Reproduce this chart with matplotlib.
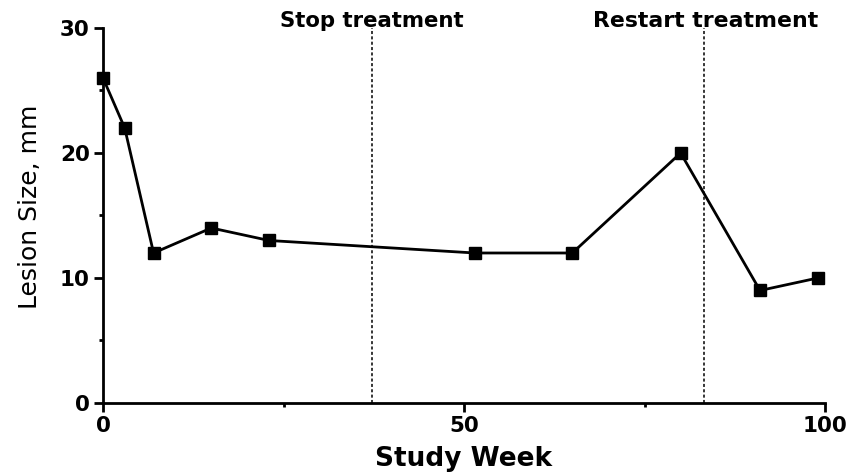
import matplotlib
matplotlib.use("Agg")
import matplotlib.pyplot as plt
from matplotlib.ticker import MultipleLocator

# data
weeks = [0, 3, 7, 15, 23, 51.5, 65, 80, 91, 99]
lesion_mm = [26, 22, 12, 14, 13, 12, 12, 20, 9, 10]
stop_week = 37.2
restart_week = 83.2
x_ticks = [0, 50, 100]
y_ticks = [0, 10, 20, 30]

plt.rcParams['font.family'] = ['DejaVu Sans']

fig = plt.figure(figsize=(8.48, 4.72), dpi=100)
ax = fig.add_axes([0.1215, 0.1462, 0.8514, 0.7945])

ax.plot(weeks, lesion_mm, color='black', lw=2.0, marker='s', markersize=9,
        markerfacecolor='black', markeredgecolor='black', clip_on=False, zorder=3)

# treatment stop / restart markers
for xv in (stop_week, restart_week):
    ax.axvline(xv, color='black', lw=1.1, linestyle=(0, (2, 1.5)), zorder=1)

ax.text(24.5, 30.1, 'Stop treatment', fontsize=15.3, fontweight='bold', ha='left', va='baseline')
ax.text(67.9, 30.1, 'Restart treatment', fontsize=15.8, fontweight='bold', ha='left', va='baseline')

ax.set_xlim(0, 100)
ax.set_ylim(0, 30)
ax.set_xticks(x_ticks)
ax.set_yticks(y_ticks)
ax.xaxis.set_minor_locator(MultipleLocator(25))
ax.yaxis.set_minor_locator(MultipleLocator(5))

for s in ['top', 'right']:
    ax.spines[s].set_visible(False)
for s in ['left', 'bottom']:
    ax.spines[s].set_linewidth(2)

ax.tick_params(which='major', direction='out', length=6.5, width=2, pad=3, labelsize=15.5)
ax.tick_params(which='minor', direction='out', length=3, width=2)
for lab in ax.get_xticklabels() + ax.get_yticklabels():
    lab.set_fontweight('bold')

ax.set_xlabel('Study Week', fontsize=19, fontweight='bold')
ax.set_ylabel('Lesion Size, mm', fontsize=18)
ax.xaxis.set_label_coords(0.5, -0.115)
ax.yaxis.set_label_coords(-0.0845, 0.523)

fig.savefig('out.png', dpi=100)
